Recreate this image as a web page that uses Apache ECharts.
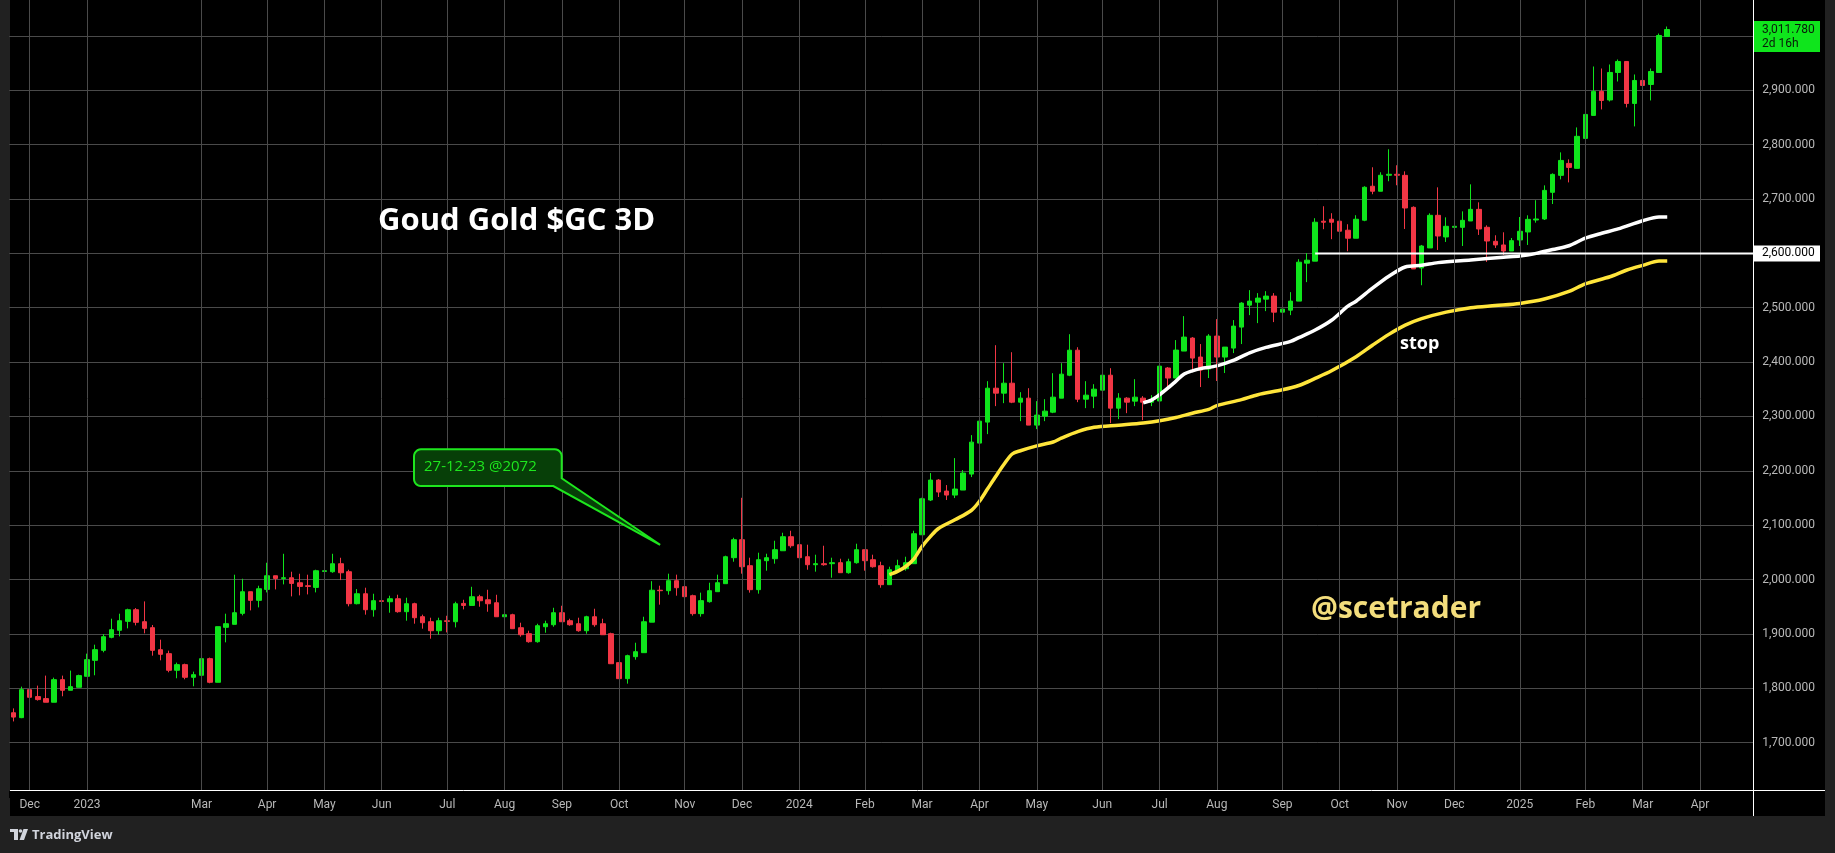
<!DOCTYPE html>
<html><head><meta charset="utf-8">
<script src="https://cdn.jsdelivr.net/npm/echarts@6/dist/echarts.min.js"></script>
<style>
html,body{margin:0;padding:0;background:#212121;width:1835px;height:853px;overflow:hidden}
#panel{position:absolute;left:10px;top:0;width:1815px;height:816px;background:#000}
#chart{position:absolute;left:0;top:0;width:1835px;height:853px}
</style></head><body>
<div id="panel"></div>
<div id="chart"></div>
<script>
// ---- data ----
// bar index categories (3-day bars), 203 real bars + 10 empty future slots
const categories = Array.from({length: 213}, (_, i) => String(i));
// month tick labels: [bar index, label]
const monthTicks = [[2,'Dec'],[9,'2023'],[23,'Mar'],[31,'Apr'],[38,'May'],[45,'Jun'],[53,'Jul'],[60,'Aug'],[67,'Sep'],[74,'Oct'],[82,'Nov'],[89,'Dec'],[96,'2024'],[104,'Feb'],[111,'Mar'],[118,'Apr'],[125,'May'],[133,'Jun'],[140,'Jul'],[147,'Aug'],[155,'Sep'],[162,'Oct'],[169,'Nov'],[176,'Dec'],[184,'2025'],[192,'Feb'],[199,'Mar'],[206,'Apr']];
// candles: [open, close, low, high]
const candles = [
[1755,1747,1739,1763],[1746,1797.5,1745,1803],[1797.5,1783.4,1763.9,1808],[1784.7,1779.2,1777.3,1804.9],[1781,1774.3,1774.3,1823.3],
[1774.3,1815.9,1774.3,1819.6],[1815.9,1796.3,1785.3,1823.3],[1796.3,1803,1796.3,1832.5],[1801.8,1823.3,1801.8,1825],[1822,1852.7,1822,1863.7],
[1851.4,1871,1823.9,1880.2],[1869.8,1894.9,1866.1,1899.8],[1893.7,1907.8,1891.9,1928],[1906.6,1924.3,1895.5,1937.2],[1923.1,1944.5,1910.2,1946.4],
[1944.5,1921.3,1915.7,1947.6],[1922.5,1910.2,1901.1,1959.8],[1911.5,1869.8,1860,1916.4],[1871,1862.5,1851.4,1889.4],[1863.7,1833.1,1829.4,1869.2],
[1833.1,1843.5,1818.4,1847.2],[1843.5,1820.2,1816.5,1845.3],[1820.2,1825,1803.7,1830.6],[1823.9,1854.5,1822.7,1854.5],[1854.5,1811,1809.2,1856.4],
[1811,1913.3,1811,1913.3],[1912.1,1918.8,1884.5,1937.2],[1917.6,1939,1917.6,2008.9],[1937.8,1977.6,1934.1,2001.5],[1977.6,1961.7,1943.3,1977.6],
[1961.7,1983.1,1948.8,1988.6],[1981.9,2007,1976.4,2030.9],[2007,2002.1,1981.9,2007],[2002.1,2003.3,1991.1,2047.4],[2003.3,1992.9,1969,2014.4],
[1994.1,1987.4,1970.9,2010.7],[1988.6,1987.4,1972.7,2008.9],[1985.6,2016.2,1976.4,2018.1],[2015,2016.2,1999,2065.8],[2014.4,2029.1,2012.5,2047.4],
[2029.1,2012.5,1999,2040.1],[2014.4,1955.6,1950.7,2018.1],[1955.6,1973.9,1954.3,1982.5],[1973.9,1944.5,1935.4,1985],[1944.5,1961.1,1931.7,1973.9],
[1961.1,1959.8,1937.2,1983.1],[1959.2,1964.7,1939,1970.3],[1964.7,1940.9,1939,1972.1],[1940.9,1955.6,1924.3,1966.6],[1955.6,1929.8,1918.8,1957.4],
[1931.7,1920.6,1909.6,1935.4],[1922.5,1905.9,1891.2,1929.8],[1905.9,1924.3,1898.5,1929.8],[1924.3,1923,1902.8,1933.4],[1922.4,1955.5,1912,1959.2],
[1956.1,1952.4,1945.1,1962.8],[1952.4,1968.4,1952.4,1986.7],[1968.4,1961,1950,1972],[1962.8,1955.5,1940.8,1981.2],[1957.3,1931.6,1931.6,1972],
[1931.6,1935.3,1924.3,1946.3],[1935.3,1909.6,1909.6,1937.1],[1911.4,1898.5,1894.9,1920.6],[1900.4,1885.7,1883.8,1905.9],[1885.7,1915.1,1883.8,1918.7],
[1913.2,1918.7,1902.2,1924.3],[1916.9,1939,1913.2,1948.1],[1939,1922.4,1922.4,1951.8],[1924.3,1916.9,1915.1,1927.9],[1918.7,1905.9,1904,1929.8],
[1905.9,1931.6,1900.4,1933.4],[1931.6,1916.9,1913.2,1946.3],[1918.7,1898.5,1898.5,1927.9],[1900.4,1845.2,1845.2,1902.2],[1847.1,1817.7,1817.7,1847.1],
[1817.7,1860,1808.5,1861.8],[1858.1,1867.3,1852.6,1883.8],[1865.5,1922.4,1865.5,1931.6],[1921.6,1980.4,1921.6,1997],[1980.4,1979.5,1953.8,1988.7],
[1979.5,1997.9,1972.2,2010.8],[1997.9,1985,1970.3,2009],[1986.9,1968.5,1956.9,2005.3],[1970.3,1937.3,1933.6,1972.2],[1937.3,1961.2,1931.8,1975.9],
[1959.3,1979.5,1957.5,1994.2],[1977.7,1994.2,1977.7,2009],[1992.4,2042,1992.4,2043.9],[2040.2,2073.3,2032.8,2076.9],[2073.3,2023.6,2010.8,2150.4],
[2025.5,1981.4,1975.9,2040.2],[1981.4,2036.5,1974,2049.4],[2034.7,2040.2,2016.3,2047.5],[2038.3,2054.9,2029.2,2071.4],[2053,2078.8,2053,2086.1],
[2078.8,2062.2,2058.5,2089.8],[2064.1,2040.2,2040.2,2080.6],[2042,2027.3,2018.1,2064.1],[2027.3,2029.2,2014.5,2045.7],[2029.2,2027.3,2025.5,2062.2],
[2029.2,2031,2003.4,2040.2],[2031,2012.6,2012.6,2038.3],[2012.6,2032.8,2010.8,2038.3],[2031,2054.9,2029.2,2065.9],[2054.9,2034.7,2016.3,2054.9],
[2036.5,2023.6,2021.8,2045.7],[2025.5,1990.6,1985,2032.8],[1990.6,2018.1,1990.6,2023.6],[2016.3,2025.5,2014.5,2036.5],[2019.9,2031,2016.3,2042],
[2029.2,2084.3,2029.2,2089.8],[2082.4,2148.6,2082.4,2150.4],[2146.3,2183,2144.4,2195.9],[2183,2161,2151.8,2184.8],[2162.8,2155.4,2146.3,2173.8],
[2155.4,2166.5,2149.9,2223.4],[2164.6,2195.9,2164.6,2201.4],[2194,2252.8,2188.5,2265.7],[2251,2291.4,2251,2306.1],[2289.6,2352,2267.5,2364.9],
[2352,2342.9,2319,2431.1],[2342.9,2361.2,2324.5,2398],[2361.2,2326.3,2324.5,2418.2],[2326.3,2333.7,2291.4,2344.7],[2333.7,2284.1,2284.1,2352],
[2284.1,2302.5,2276.7,2328.2],[2300.6,2309.8,2291.4,2331.8],[2307.9,2335.5,2306.1,2379.6],[2333.7,2377.8,2333.7,2398],[2375.9,2421.9,2374.1,2451.3],
[2421.9,2331.8,2326.3,2427.4],[2331.8,2339.2,2315.3,2364.9],[2337.4,2350.2,2315.3,2359.4],[2348.4,2375.9,2315.3,2379.6],[2375.9,2315.3,2287.7,2388.8],
[2315.3,2333.7,2295.1,2342.9],[2333.7,2326.3,2306.1,2335.5],[2328.2,2335.5,2319,2368.6],[2333.7,2326.3,2293.3,2337.4],[2326.3,2330,2319,2339.2],
[2328.5,2392.6,2328.5,2392.6],[2389.1,2370.7,2352.3,2390.9],[2370.7,2422.1,2370.7,2440.5],[2420.3,2446,2420.3,2484.6],[2444.2,2407.4,2383.5,2446],
[2409.3,2385.4,2354.1,2433.2],[2387.2,2447.9,2370.7,2451.5],[2447.9,2409.3,2365.2,2479.1],[2409.3,2427.6,2379.9,2427.6],[2425.8,2466.2,2416.6,2477.3],
[2464.4,2508.5,2433.2,2510.3],[2504.8,2512.2,2486.4,2532.4],[2510.3,2517.7,2471.7,2526.9],[2515.8,2521.4,2493.8,2530.5],[2521.4,2491.9,2473.6,2526.9],
[2491.9,2497.5,2471.7,2526.9],[2495.6,2512.2,2486.4,2528.7],[2512.2,2583.8,2512.2,2589.3],[2582,2587.5,2547.1,2600.4],[2585.7,2657.3,2585.7,2664.7],
[2659.2,2657.3,2644.5,2686.7],[2662.8,2657.3,2626.1,2673.9],[2659.2,2640.8,2631.6,2670.2],[2642.6,2627.9,2604,2653.6],[2627.9,2662.8,2627.9,2670.2],
[2661,2721.6,2659.2,2723.5],[2723.5,2714.3,2708.8,2758.4],[2714.3,2743.7,2714.3,2749.2],[2743.7,2745.5,2732.7,2791.5],[2745.5,2743.7,2725.3,2762.1],
[2743.5,2683.5,2644.9,2750.9],[2684.7,2571.4,2571.4,2686.5],[2573.2,2613.6,2541.4,2615.5],[2610,2670,2610,2673.7],[2670,2632,2606.3,2721.5],
[2630.2,2649.8,2621,2666.3],[2647.9,2649.8,2622.8,2657.1],[2647.9,2660.8,2613.6,2677.3],[2659.6,2681,2659.6,2727],[2681,2644.9,2633.9,2693.9],
[2648,2622.8,2584.3,2651.6],[2622.2,2615.5,2610,2633.3],[2615.5,2604.4,2597.1,2638.8],[2604.4,2623.4,2604.4,2628.3],[2624.7,2640.6,2613.6,2666.9],
[2639.4,2662.6,2615.5,2670],[2661.4,2663.3,2656.5,2697.8],[2663.3,2715.9,2661.4,2725.1],[2712.3,2745.3,2690.8,2747.2],[2743.5,2771,2736.1,2785.8],
[2765.5,2758.2,2730.6,2772.9],[2756.4,2815.3,2756.4,2831.7],[2811.5,2855.6,2811.5,2883.1],[2853.8,2897.9,2853.8,2943.8],[2897.9,2881.3,2864.8,2940.1],
[2882.2,2932.8,2879.5,2947.5],[2932.8,2953,2916.2,2956.7],[2953,2875.8,2868.5,2953],[2875.8,2918.1,2833.6,2929.1],[2918.1,2908.9,2892.3,2931],
[2910.7,2934.6,2881.3,2940.1],[2932.8,3000.8,2932.8,3004.4],[2999,3011.78,2999,3017.3]
];
// moving-average style lines: [bar index, value]
const yellowLine = [[107,2009],[108,2015],[109,2024],[110,2038],[111,2061],[112,2079],[113,2094],[115,2110],[117,2127],[118,2144],[119,2167],[120,2190],[121,2212],[122,2231],[123,2237],[125,2246],[127,2253],[128,2260],[130,2272],[132,2280],[135,2284],[138,2288],[140,2292],[142,2298],[144,2306],[146,2313],[147,2320],[150,2331],[152,2340],[155,2349],[157,2357],[159,2370],[161,2384],[164,2410],[166,2431],[168,2451],[170,2468],[172,2480],[175,2492],[178,2500],[181,2504],[184,2508],[187,2516],[190,2530],[192,2544],[195,2557],[197,2569],[199,2578],[201,2586],[202,2586]];
const whiteLine = [[138,2325],[139,2330],[140,2340],[141,2352],[142,2365],[143,2378],[144,2384],[145,2388],[147,2393],[149,2403],[151,2417],[153,2427],[156,2438],[157,2445],[159,2459],[161,2477],[163,2503],[164,2512],[166,2536],[168,2558],[170,2575],[172,2578],[174,2583],[178,2588],[182,2593],[184,2595],[186,2600],[188,2607],[190,2614],[192,2628],[194,2637],[196,2645],[199,2660],[201,2667],[202,2667]];
const levelLine = {start: 159, value: 2600, label: '2,600.000'};
const lastTag = {index: 202, value: 3011.78, label: '3,011.780', sub: '2d 16h'};
const title = 'Goud Gold $GC 3D';
const callout = {text: '27-12-23 @2072'};

// ---- styles ----
const GREEN = '#0fe51c', RED = '#f23645', GRID = '#4a4a4a', AX = '#b8b8b8';
const tickMap = new Map(monthTicks);
const fmt = v => v.toLocaleString('en-US', {minimumFractionDigits: 3, maximumFractionDigits: 3});

const chart = echarts.init(document.getElementById('chart'));
chart.setOption({
  animation: false,
  backgroundColor: 'transparent',
  grid: {left: 9.2, right: 81.8, top: 0, bottom: 56},
  xAxis: {
    type: 'category', data: categories, boundaryGap: true,
    axisLine: {show: false}, axisTick: {show: false}, splitLine: {show: false},
    axisLabel: {interval: (i) => tickMap.has(i), formatter: (v, i) => tickMap.get(i) || '',
      color: AX, fontSize: 12, fontFamily: 'Roboto', margin: 2}
  },
  yAxis: {
    type: 'value', position: 'right', min: 1600, max: 3066.1, interval: 100,
    axisLine: {show: false}, axisTick: {show: false},
    splitLine: {show: true, showMinLine: false, showMaxLine: false, lineStyle: {color: GRID, width: 1}},
    axisLabel: {showMinLabel: false, showMaxLabel: false, margin: 9, color: AX, fontSize: 12, fontFamily: 'Roboto', formatter: fmt}
  },
  series: [
    {type: 'line', data: [], z: 1, silent: true,
     markLine: {silent: true, symbol: ['none', 'none'], label: {show: false},
       lineStyle: {color: GRID, width: 1, type: 'solid'},
       data: monthTicks.map(t => ({xAxis: t[0]}))}},
    {type: 'candlestick', data: candles, barWidth: 5, z: 3,
     itemStyle: {color: GREEN, color0: RED, borderColor: GREEN, borderColor0: RED, borderWidth: 1}},
    {type: 'line', data: yellowLine, smooth: 0.3, showSymbol: false, symbol: 'none', z: 4,
     lineStyle: {color: '#ffe53b', width: 3.5}},
    {type: 'line', data: whiteLine, smooth: 0.3, showSymbol: false, symbol: 'none', z: 4,
     lineStyle: {color: '#ffffff', width: 3.5}}
  ]
});

const px = (i, v) => chart.convertToPixel({xAxisIndex: 0, yAxisIndex: 0}, [i, v]);
const yLevel = px(levelLine.start, levelLine.value);
const yLast = px(lastTag.index, lastTag.value)[1];
const tip = px(79, 2064);

function T(text, x, y, font, fill, align) {
  return {type: 'text', z: 120, silent: true,
    style: {text, x, y, font, fill, align: align || 'left', textAlign: align || 'left', verticalAlign: 'middle', textVerticalAlign: 'middle'}};
}
// callout polygon with rounded corners
function arc(cx, cy, r, a0, a1, n) {
  const pts = [];
  for (let k = 0; k <= n; k++) { const a = (a0 + (a1 - a0) * k / n) * Math.PI / 180; pts.push([cx + r * Math.cos(a), cy + r * Math.sin(a)]); }
  return pts;
}
const bx0 = 414, by0 = 449.3, bx1 = 561.7, by1 = 486, r = 7;
const tipX = tip[0], tipY = tip[1];
const calloutPts = [].concat(
  [[bx0 + r, by0], [bx1 - r, by0]],
  arc(bx1 - r, by0 + r, r, -90, 0, 6),
  [[bx1, 478.3], [tipX, tipY], [553.3, by1], [bx0 + r, by1]],
  arc(bx0 + r, by1 - r, r, 90, 180, 6),
  arc(bx0 + r, by0 + r, r, 180, 270, 6)
);

chart.setOption({
  graphic: [
    {type: 'rect', z: 100, silent: true, shape: {x: 9, y: 791, width: 1745, height: 7}, style: {fill: '#000'}},
    {type: 'line', z: 110, silent: true, shape: {x1: 10, y1: 790.5, x2: 1825, y2: 790.5}, style: {stroke: '#fff', lineWidth: 1}},
    {type: 'line', z: 110, silent: true, shape: {x1: 1753.5, y1: 0, x2: 1753.5, y2: 816}, style: {stroke: '#fff', lineWidth: 1}},
    // 2600 level line and tag
    {type: 'line', z: 110, silent: true, shape: {x1: yLevel[0], y1: yLevel[1], x2: 1753, y2: yLevel[1]}, style: {stroke: '#fff', lineWidth: 2}},
    {type: 'rect', z: 115, silent: true, shape: {x: 1754, y: yLevel[1] - 8, width: 66, height: 16}, style: {fill: '#fff'}},
    T(levelLine.label, 1762, yLevel[1], '12px Roboto', '#000'),
    // last price tag
    {type: 'rect', z: 115, silent: true, shape: {x: 1754, y: yLast - 8.5, width: 66, height: 31}, style: {fill: GREEN}},
    T(lastTag.label, 1762, yLast, '12px Roboto', '#0a1a0a'),
    T(lastTag.sub, 1762, yLast + 14, '12px Roboto', '#0a1a0a'),
    // texts
    T(title, 378, 221, 'bold 31px "Open Sans"', '#ffffff'),
    T('stop', 1400, 344, 'bold 18px "Open Sans"', '#ffffff'),
    T('@scetrader', 1311, 609, 'bold 30px "Open Sans"', '#f3dd7c'),
    // callout
    {type: 'polygon', z: 105, silent: true, shape: {points: calloutPts}, style: {fill: '#073f08', stroke: '#1ee61e', lineWidth: 2}},
    T(callout.text, 424, 467, '15px "Open Sans"', '#1ee61e'),
    // TradingView logo
    {type: 'rect', z: 120, silent: true, shape: {x: 10, y: 829, width: 8, height: 3}, style: {fill: '#d1d4dc'}},
    {type: 'rect', z: 120, silent: true, shape: {x: 14, y: 829, width: 4, height: 11}, style: {fill: '#d1d4dc'}},
    {type: 'circle', z: 120, silent: true, shape: {cx: 20.5, cy: 831, r: 1.8}, style: {fill: '#d1d4dc'}},
    {type: 'polygon', z: 120, silent: true, shape: {points: [[23.5, 829], [28, 829], [24, 840], [19.5, 840]]}, style: {fill: '#d1d4dc'}},
    T('TradingView', 32, 835, 'bold 13px "Open Sans"', '#d1d4dc')
  ]
});
</script></body></html>
